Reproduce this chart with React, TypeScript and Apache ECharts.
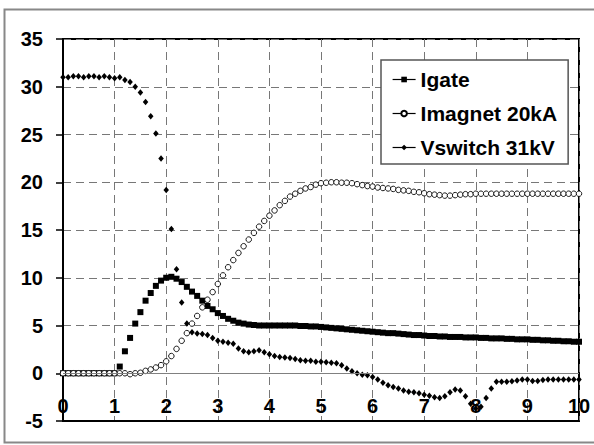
import React, { useEffect, useRef } from "react";
import * as echarts from "echarts";

const time = [
  0, 0.1, 0.2, 0.3, 0.4, 0.5, 0.6, 0.7, 0.8, 0.9,
  1, 1.1, 1.2, 1.3, 1.4, 1.5, 1.6, 1.7, 1.8, 1.9,
  2, 2.1, 2.2, 2.3, 2.4, 2.5, 2.6, 2.7, 2.8, 2.9,
  3, 3.1, 3.2, 3.3, 3.4, 3.5, 3.6, 3.7, 3.8, 3.9,
  4, 4.1, 4.2, 4.3, 4.4, 4.5, 4.6, 4.7, 4.8, 4.9,
  5, 5.1, 5.2, 5.3, 5.4, 5.5, 5.6, 5.7, 5.8, 5.9,
  6, 6.1, 6.2, 6.3, 6.4, 6.5, 6.6, 6.7, 6.8, 6.9,
  7, 7.1, 7.2, 7.3, 7.4, 7.5, 7.6, 7.7, 7.8, 7.9,
  8, 8.1, 8.2, 8.3, 8.4, 8.5, 8.6, 8.7, 8.8, 8.9,
  9, 9.1, 9.2, 9.3, 9.4, 9.5, 9.6, 9.7, 9.8, 9.9,
  10,
];

const igate = [
  0, 0, 0, 0, 0, 0, 0, 0, 0, 0,
  0, 0.7, 2.3, 3.7, 5.2, 6.4, 7.6, 8.4, 9.15, 9.7,
  10.0, 10.1, 9.9, 9.55, 9.05, 8.55, 8.1, 7.6, 7.05, 6.7,
  6.3, 6.0, 5.7, 5.5, 5.3, 5.2, 5.1, 5.05, 5.0, 5.0,
  5.0, 5.0, 5.0, 5.0, 5.0, 5.0, 4.95, 4.95, 4.9, 4.9,
  4.85, 4.8, 4.75, 4.7, 4.65, 4.6, 4.55, 4.5, 4.45, 4.4,
  4.35, 4.3, 4.25, 4.2, 4.2, 4.15, 4.1, 4.05, 4.0, 4.0,
  3.95, 3.9, 3.9, 3.85, 3.85, 3.8, 3.8, 3.8, 3.75, 3.75,
  3.75, 3.7, 3.7, 3.65, 3.65, 3.65, 3.6, 3.6, 3.55, 3.55,
  3.55, 3.5, 3.5, 3.45, 3.45, 3.4, 3.4, 3.35, 3.35, 3.3,
  3.3,
];

const imagnet = [
  0, 0, 0, 0, 0, 0, 0, 0, 0, 0,
  0, 0, 0, -0.1, 0, 0.05, 0.25, 0.4, 0.6, 0.85,
  1.25, 1.8, 2.55, 3.4, 4.2, 5.2, 6.0, 6.9, 7.7, 8.5,
  9.35, 10.25, 11.1, 11.85, 12.6, 13.3, 14.0, 14.7, 15.35, 15.95,
  16.5, 17.05, 17.6, 18.05, 18.5, 18.8, 19.1, 19.35, 19.5, 19.75,
  19.9, 19.95, 20.0, 20.0, 19.95, 19.95, 19.9, 19.8, 19.7, 19.6,
  19.55, 19.45, 19.4, 19.35, 19.3, 19.2, 19.15, 19.1, 19.0, 18.95,
  18.85, 18.75, 18.7, 18.65, 18.6, 18.6, 18.65, 18.7, 18.75, 18.75,
  18.8, 18.8, 18.8, 18.8, 18.8, 18.8, 18.8, 18.8, 18.8, 18.8,
  18.8, 18.8, 18.8, 18.8, 18.8, 18.8, 18.8, 18.8, 18.8, 18.8,
  18.8,
];

const vswitch = [
  31.0, 31.0, 31.1, 31.1, 31.0, 31.1, 31.1, 31.0, 31.1, 31.0,
  30.9, 31.0, 30.7, 30.5, 30.0, 29.4, 28.4, 26.9, 25.1, 22.5,
  19.2, 15.1, 10.9, 7.4, 5.2, 4.3, 4.15, 4.1, 4.0, 3.7,
  3.4, 3.3, 3.2, 3.1, 2.6, 2.3, 2.2, 2.3, 2.4, 2.2,
  2.0, 1.8, 1.7, 1.65, 1.6, 1.5, 1.35, 1.3, 1.3, 1.2,
  1.2, 1.15, 1.1, 1.05, 0.85, 0.5, 0.2, 0.0, -0.15, -0.2,
  -0.4, -0.66, -1.0, -1.25, -1.45, -1.6, -1.8, -1.95, -2.0, -2.1,
  -2.25, -2.35, -2.5, -2.6, -2.4, -2.0, -1.7, -1.8, -2.4, -3.2,
  -3.7, -3.5, -2.6, -1.6, -0.9, -0.9, -0.9, -0.85, -0.75, -0.65,
  -0.65, -0.8, -0.8, -0.7, -0.65, -0.65, -0.65, -0.65, -0.65, -0.65,
  -0.65,
];

const seriesNames = ["Igate", "Imagnet 20kA", "Vswitch 31kV"];

const FONT = "'Liberation Sans', Arial, sans-serif";

function pairs(values: number[]) {
  return time.map((t, i) => [t, values[i]]);
}

export default function App() {
  const ref = useRef<HTMLDivElement>(null);

  useEffect(() => {
    if (!ref.current) return;
    const chart = echarts.init(ref.current, undefined, { renderer: "svg" });
    const gridLine = { show: true, lineStyle: { color: "#777", type: [8, 5] as any, width: 1 } };
    const labelStyle = { fontFamily: FONT, fontSize: 20, fontWeight: "bold" as const, color: "#000" };

    chart.setOption({
      animation: false,
      backgroundColor: "#fff",
      textStyle: { fontFamily: FONT },
      graphic: [
        {
          type: "rect",
          silent: true,
          shape: { x: 4.5, y: 9.5, width: 620, height: 433 },
          style: { fill: "none", stroke: "#888", lineWidth: 2 },
        },
      ],
      grid: {
        left: 63,
        top: 39,
        width: 516,
        height: 382,
        show: true,
        borderColor: "#000",
        borderWidth: 2,
        backgroundColor: "transparent",
      },
      xAxis: {
        type: "value",
        min: 0,
        max: 10,
        interval: 1,
        axisLine: { show: true, onZero: false, lineStyle: { color: "#000", width: 2 } },
        axisTick: { show: false },
        axisLabel: { ...labelStyle, inside: true, margin: 5, showMinLabel: true, showMaxLabel: true },
        splitLine: gridLine,
      },
      yAxis: {
        type: "value",
        min: -5,
        max: 35,
        interval: 5,
        axisLine: { show: true, onZero: false, lineStyle: { color: "#000", width: 2 } },
        axisTick: { show: true, length: 7, lineStyle: { color: "#000", width: 1.5 } },
        axisLabel: { ...labelStyle, margin: 20 },
        splitLine: gridLine,
      },
      legend: {
        orient: "vertical",
        left: 381,
        top: 60,
        padding: [9, 11, 6, 11],
        itemGap: 13,
        itemWidth: 23,
        itemHeight: 7,
        backgroundColor: "#fff",
        borderColor: "#555",
        borderWidth: 1.5,
        textStyle: { fontFamily: FONT, fontSize: 21, fontWeight: "bold", color: "#000" },
        lineStyle: { color: "#000", width: 1.2, opacity: 1 },
        data: seriesNames,
      },
      series: [
        {
          name: seriesNames[0],
          type: "line",
          data: pairs(igate),
          symbol: "rect",
          symbolSize: 6,
          showAllSymbol: true,
          itemStyle: { color: "#000" },
          lineStyle: { opacity: 0 },
          markLine: {
            silent: true,
            symbol: "none",
            label: { show: false },
            lineStyle: { color: "#808080", type: "solid", width: 1 },
            data: [{ yAxis: 0 }],
          },
        },
        {
          name: seriesNames[1],
          type: "line",
          data: pairs(imagnet),
          symbol: "circle",
          symbolSize: 5.5,
          showAllSymbol: true,
          itemStyle: { color: "#fff", borderColor: "#000", borderWidth: 0.9 },
          lineStyle: { opacity: 0 },
        },
        {
          name: seriesNames[2],
          type: "line",
          data: pairs(vswitch),
          symbol: "diamond",
          symbolSize: [5.5, 6.5],
          showAllSymbol: true,
          itemStyle: { color: "#000" },
          lineStyle: { opacity: 0 },
        },
      ],
    });
    return () => chart.dispose();
  }, []);

  return (
    <div
      ref={ref}
      style={{ position: "absolute", left: 0, top: 0, width: 594, height: 445, background: "#fff" }}
    />
  );
}
